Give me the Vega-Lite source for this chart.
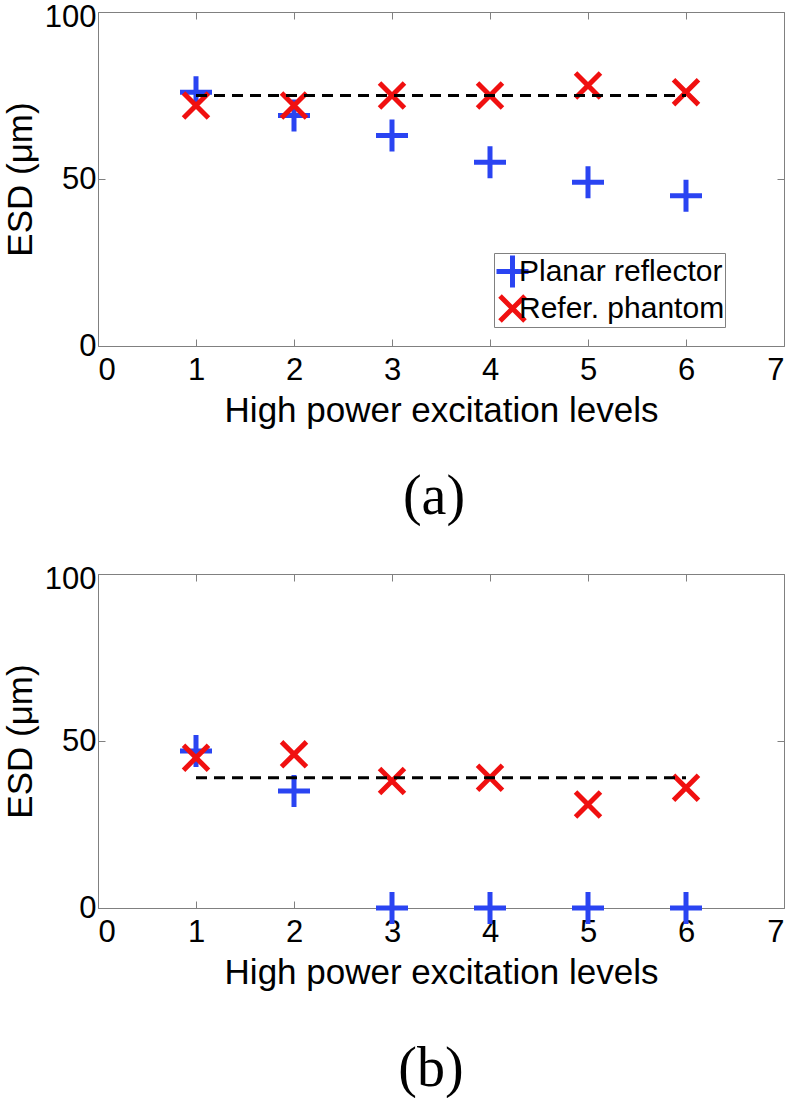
{
  "$schema": "https://vega.github.io/schema/vega-lite/v6.json",
  "padding": {"left": 2, "top": 0, "right": 0, "bottom": 0},
  "background": "white",
  "config": {
    "font": "Liberation Sans",
    "view": {"stroke": "#808080", "strokeWidth": 1},
    "axis": {"grid": false, "domain": false, "tickColor": "#808080", "tickWidth": 1, "labelFont": "Liberation Sans", "labelFontSize": 31, "labelColor": "black", "titleFont": "Liberation Sans", "titleFontSize": 35, "titleFontWeight": "normal", "titleColor": "black"}
  },
  "datasets": {
    "pts": [
      {"panel": "a", "level": 1, "esd": 76, "series": "Planar reflector"},
      {"panel": "a", "level": 2, "esd": 69, "series": "Planar reflector"},
      {"panel": "a", "level": 3, "esd": 63, "series": "Planar reflector"},
      {"panel": "a", "level": 4, "esd": 55, "series": "Planar reflector"},
      {"panel": "a", "level": 5, "esd": 49, "series": "Planar reflector"},
      {"panel": "a", "level": 6, "esd": 45, "series": "Planar reflector"},
      {"panel": "a", "level": 1, "esd": 72, "series": "Refer. phantom"},
      {"panel": "a", "level": 2, "esd": 72, "series": "Refer. phantom"},
      {"panel": "a", "level": 3, "esd": 75, "series": "Refer. phantom"},
      {"panel": "a", "level": 4, "esd": 75, "series": "Refer. phantom"},
      {"panel": "a", "level": 5, "esd": 78, "series": "Refer. phantom"},
      {"panel": "a", "level": 6, "esd": 76, "series": "Refer. phantom"},
      {"panel": "b", "level": 1, "esd": 47, "series": "Planar reflector"},
      {"panel": "b", "level": 2, "esd": 35, "series": "Planar reflector"},
      {"panel": "b", "level": 3, "esd": 0, "series": "Planar reflector"},
      {"panel": "b", "level": 4, "esd": 0, "series": "Planar reflector"},
      {"panel": "b", "level": 5, "esd": 0, "series": "Planar reflector"},
      {"panel": "b", "level": 6, "esd": 0, "series": "Planar reflector"},
      {"panel": "b", "level": 1, "esd": 45, "series": "Refer. phantom"},
      {"panel": "b", "level": 2, "esd": 46, "series": "Refer. phantom"},
      {"panel": "b", "level": 3, "esd": 38, "series": "Refer. phantom"},
      {"panel": "b", "level": 4, "esd": 39, "series": "Refer. phantom"},
      {"panel": "b", "level": 5, "esd": 31, "series": "Refer. phantom"},
      {"panel": "b", "level": 6, "esd": 36, "series": "Refer. phantom"}
    ],
    "ref": [
      {"panel": "a", "level": 1, "esd": 75},
      {"panel": "a", "level": 6, "esd": 75},
      {"panel": "b", "level": 1, "esd": 39},
      {"panel": "b", "level": 6, "esd": 39}
    ]
  },
  "spacing": 228,
  "bounds": "flush",
  "vconcat": [
    {
      "width": 686,
      "height": 334,
      "title": {"text": "(a)", "orient": "bottom", "font": "Liberation Serif", "fontSize": 56, "fontWeight": "normal", "color": "black", "offset": 42, "dx": -7},
      "layer": [
        {
          "data": {"name": "pts"},
          "transform": [{"filter": "datum.panel === 'a'"}],
          "mark": {"type": "point", "filled": false, "strokeWidth": 5, "size": 1024, "opacity": 1},
          "encoding": {
            "x": {"field": "level", "type": "quantitative", "scale": {"domain": [0, 7], "nice": false, "zero": false}, "axis": {"orient": "bottom", "values": [0, 1, 2, 3, 4, 5, 6, 7], "tickSize": -7, "labelPadding": 16, "title": "High power excitation levels", "titlePadding": 8, "format": "d"}},
            "y": {"field": "esd", "type": "quantitative", "scale": {"domain": [0, 100], "nice": false}, "axis": {"orient": "left", "values": [0, 50, 100], "tickSize": -7, "labelPadding": 9, "labelOffset": {"condition": {"test": "datum.value === 100", "value": 5}, "value": 0}, "title": "ESD (μm)", "titlePadding": 6}},
            "color": {"field": "series", "type": "nominal", "scale": {"domain": ["Planar reflector", "Refer. phantom"], "range": ["#2a44f2", "#f01010"]},
              "legend": {"title": null, "orient": "none", "legendX": 396, "legendY": 241, "strokeColor": "#808080", "fillColor": "white", "padding": 0, "symbolSize": 1024, "symbolStrokeWidth": 5, "labelFontSize": 30, "labelFont": "Liberation Sans", "labelColor": "black", "labelOffset": -12, "symbolOffset": 0, "rowPadding": 0, "clipHeight": 37, "labelLimit": 400}},
            "shape": {"field": "series", "type": "nominal", "scale": {"domain": ["Planar reflector", "Refer. phantom"], "range": ["M-1,0L1,0M0,-1L0,1", "M-0.78,-0.78L0.78,0.78M-0.78,0.78L0.78,-0.78"]},
              "legend": {"title": null, "orient": "none", "legendX": 396, "legendY": 241, "strokeColor": "#808080", "fillColor": "white", "padding": 0, "symbolSize": 1024, "symbolStrokeWidth": 5, "labelFontSize": 30, "labelFont": "Liberation Sans", "labelColor": "black", "labelOffset": -12, "symbolOffset": 0, "rowPadding": 0, "clipHeight": 37, "labelLimit": 400}}
          }
        },
        {
          "data": {"name": "ref"},
          "transform": [{"filter": "datum.panel === 'a'"}],
          "mark": {"type": "line", "color": "black", "strokeWidth": 3, "strokeDash": [11, 7]},
          "encoding": {
            "x": {"field": "level", "type": "quantitative", "axis": {"orient": "top", "values": [0, 1, 2, 3, 4, 5, 6, 7], "labels": false, "title": null, "tickSize": -7}},
            "y": {"field": "esd", "type": "quantitative", "axis": {"orient": "right", "values": [0, 50, 100], "labels": false, "title": null, "tickSize": -7}}
          }
        }
      ]
    },
    {
      "width": 686,
      "height": 334,
      "title": {"text": "(b)", "orient": "bottom", "font": "Liberation Serif", "fontSize": 56, "fontWeight": "normal", "color": "black", "offset": 52, "dx": -10},
      "layer": [
        {
          "data": {"name": "pts"},
          "transform": [{"filter": "datum.panel === 'b'"}],
          "mark": {"type": "point", "filled": false, "strokeWidth": 5, "size": 1024, "opacity": 1},
          "encoding": {
            "x": {"field": "level", "type": "quantitative", "scale": {"domain": [0, 7], "nice": false, "zero": false}, "axis": {"orient": "bottom", "values": [0, 1, 2, 3, 4, 5, 6, 7], "tickSize": -7, "labelPadding": 16, "title": "High power excitation levels", "titlePadding": 8, "format": "d"}},
            "y": {"field": "esd", "type": "quantitative", "scale": {"domain": [0, 100], "nice": false}, "axis": {"orient": "left", "values": [0, 50, 100], "tickSize": -7, "labelPadding": 9, "labelOffset": {"condition": {"test": "datum.value === 100", "value": 5}, "value": 0}, "title": "ESD (μm)", "titlePadding": 6}},
            "color": {"field": "series", "type": "nominal", "scale": {"domain": ["Planar reflector", "Refer. phantom"], "range": ["#2a44f2", "#f01010"]},
              "legend": {"title": null, "orient": "none", "legendX": 396, "legendY": 18, "strokeColor": "#808080", "fillColor": "white", "padding": 0, "symbolSize": 1024, "symbolStrokeWidth": 5, "labelFontSize": 30, "labelFont": "Liberation Sans", "labelColor": "black", "labelOffset": -12, "symbolOffset": 0, "rowPadding": 0, "clipHeight": 37, "labelLimit": 400}},
            "shape": {"field": "series", "type": "nominal", "scale": {"domain": ["Planar reflector", "Refer. phantom"], "range": ["M-1,0L1,0M0,-1L0,1", "M-0.78,-0.78L0.78,0.78M-0.78,0.78L0.78,-0.78"]},
              "legend": {"title": null, "orient": "none", "legendX": 396, "legendY": 18, "strokeColor": "#808080", "fillColor": "white", "padding": 0, "symbolSize": 1024, "symbolStrokeWidth": 5, "labelFontSize": 30, "labelFont": "Liberation Sans", "labelColor": "black", "labelOffset": -12, "symbolOffset": 0, "rowPadding": 0, "clipHeight": 37, "labelLimit": 400}}
          }
        },
        {
          "data": {"name": "ref"},
          "transform": [{"filter": "datum.panel === 'b'"}],
          "mark": {"type": "line", "color": "black", "strokeWidth": 3, "strokeDash": [11, 7]},
          "encoding": {
            "x": {"field": "level", "type": "quantitative", "axis": {"orient": "top", "values": [0, 1, 2, 3, 4, 5, 6, 7], "labels": false, "title": null, "tickSize": -7}},
            "y": {"field": "esd", "type": "quantitative", "axis": {"orient": "right", "values": [0, 50, 100], "labels": false, "title": null, "tickSize": -7}}
          }
        }
      ]
    }
  ]
}
